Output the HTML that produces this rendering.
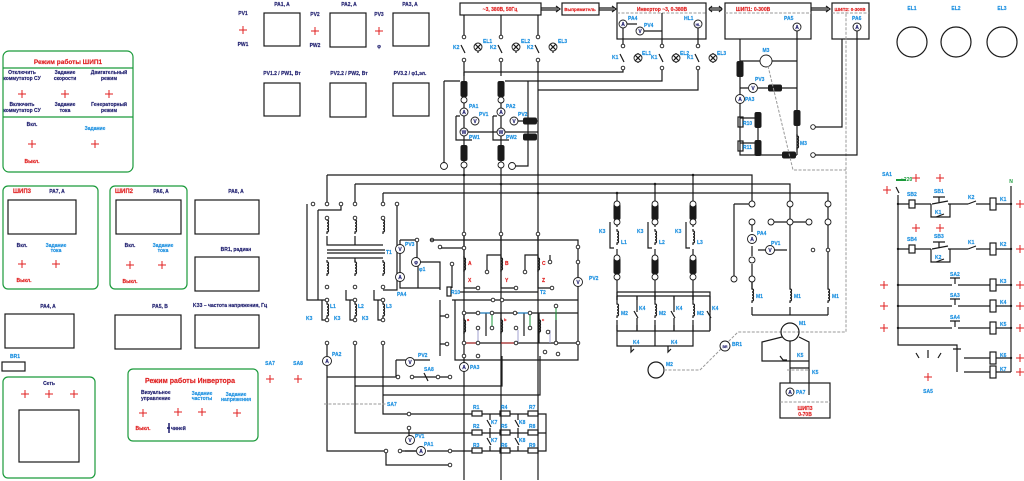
<!DOCTYPE html>
<html><head><meta charset="utf-8"><style>
html,body{margin:0;padding:0;background:#fff;}
svg{display:block;font-family:"Liberation Sans",sans-serif;font-weight:bold;}
.l{stroke:#1a1a1a;stroke-width:1.2;fill:none}
.g{stroke:#1a9a3a;stroke-width:1.2;fill:none}
.d{stroke:#999;stroke-width:1;fill:none;stroke-dasharray:3 1.5}
.t{font-size:5px;fill:#1e1e6e;stroke:#1e1e6e;stroke-width:0.15}
.c{font-size:5px;fill:#1a8fe0;stroke:#1a8fe0;stroke-width:0.15}
.r{font-size:5px;fill:#e02020;stroke:#e02020;stroke-width:0.15}
.p{stroke:#e02020;stroke-width:1}
.o{fill:#fff;stroke:#1a1a1a;stroke-width:0.9}
.k{fill:#1a1a1a}
</style></head><body>
<svg width="1024" height="481" viewBox="0 0 1024 481" xmlns="http://www.w3.org/2000/svg">
<defs>
<g id="pl"><path class="p" d="M-4 0H4M0 -4V4"/></g>
<g id="tm"><circle r="1.8" class="o"/></g>
<g id="ind"><rect x="-3.5" y="-8" width="7" height="16" rx="2" fill="#1a1a1a"/></g>
<g id="indh"><rect x="-7" y="-3.5" width="14" height="7" rx="2" fill="#1a1a1a"/></g>
<g id="coil"><path class="l" d="M0 0v2c2 0 2 3 0 3c2 0 2 3 0 3c2 0 2 3 0 3c2 0 2 3 0 3v2"/></g>
<g id="lamp"><circle r="4" class="o"/><path class="l" d="M-2.8 -2.8L2.8 2.8M-2.8 2.8L2.8 -2.8"/></g>
</defs>

<!-- ===== LEFT PANELS ===== -->
<rect x="3" y="51" width="130" height="121" rx="6" class="g"/>
<path class="g" d="M3 68H133M3 117H133"/>
<text x="68" y="64" class="r" text-anchor="middle" style="font-size:6.5px">Режим работы ШИП1</text>
<text x="22" y="74" class="t" text-anchor="middle">Отключить</text><text x="22" y="80" class="t" text-anchor="middle">коммутатор СУ</text>
<text x="65" y="74" class="t" text-anchor="middle">Задание</text><text x="65" y="80" class="t" text-anchor="middle">скорости</text>
<text x="109" y="74" class="t" text-anchor="middle">Двигательный</text><text x="109" y="80" class="t" text-anchor="middle">режим</text>
<use href="#pl" x="22" y="94"/><use href="#pl" x="65" y="94"/><use href="#pl" x="109" y="94"/>
<text x="22" y="106" class="t" text-anchor="middle">Включить</text><text x="22" y="112" class="t" text-anchor="middle">коммутатор СУ</text>
<text x="65" y="106" class="t" text-anchor="middle">Задание</text><text x="65" y="112" class="t" text-anchor="middle">тока</text>
<text x="109" y="106" class="t" text-anchor="middle">Генераторный</text><text x="109" y="112" class="t" text-anchor="middle">режим</text>
<text x="32" y="126" class="t" text-anchor="middle">Вкл.</text>
<text x="95" y="130" class="c" text-anchor="middle">Задание</text>
<use href="#pl" x="32" y="144"/><use href="#pl" x="95" y="144"/>
<text x="32" y="163" class="r" text-anchor="middle">Выкл.</text>

<text x="243" y="15" class="t" text-anchor="middle">PV1</text><use href="#pl" x="243" y="30"/><text x="243" y="46" class="t" text-anchor="middle">PW1</text>
<text x="282" y="6" class="t" text-anchor="middle">PA1, A</text><rect x="264" y="13" width="36" height="33" class="l"/>
<text x="315" y="16" class="t" text-anchor="middle">PV2</text><use href="#pl" x="315" y="31"/><text x="315" y="47" class="t" text-anchor="middle">PW2</text>
<text x="349" y="6" class="t" text-anchor="middle">PA2, A</text><rect x="330" y="13" width="36" height="34" class="l"/>
<text x="379" y="16" class="t" text-anchor="middle">PV3</text><use href="#pl" x="379" y="31"/><text x="379" y="48" class="t" text-anchor="middle">φ</text>
<text x="410" y="6" class="t" text-anchor="middle">PA3, A</text><rect x="393" y="13" width="36" height="33" class="l"/>
<text x="282" y="75" class="t" text-anchor="middle">PV1.2 / PW1, Вт</text><rect x="264" y="83" width="36" height="33" class="l"/>
<text x="349" y="75" class="t" text-anchor="middle">PV2.2 / PW2, Вт</text><rect x="330" y="83" width="36" height="34" class="l"/>
<text x="410" y="75" class="t" text-anchor="middle">PV3.2 / φ1,эл.</text><rect x="393" y="83" width="36" height="33" class="l"/>

<rect x="3" y="186" width="95" height="103" rx="5" class="g"/>
<text x="22" y="193" class="r" text-anchor="middle" style="font-size:6px">ШИП3</text><text x="57" y="193" class="t" text-anchor="middle">PA7, A</text>
<rect x="8" y="200" width="68" height="34" class="l"/>
<text x="22" y="247" class="t" text-anchor="middle">Вкл.</text><text x="56" y="247" class="c" text-anchor="middle">Задание</text><text x="56" y="252" class="c" text-anchor="middle">тока</text>
<use href="#pl" x="22" y="264"/><use href="#pl" x="56" y="264"/><text x="24" y="282" class="r" text-anchor="middle">Выкл.</text>

<rect x="110" y="186" width="77" height="103" rx="5" class="g"/>
<text x="124" y="193" class="r" text-anchor="middle" style="font-size:6px">ШИП2</text><text x="161" y="193" class="t" text-anchor="middle">PA6, A</text>
<rect x="116" y="200" width="65" height="34" class="l"/>
<text x="130" y="247" class="t" text-anchor="middle">Вкл.</text><text x="163" y="247" class="c" text-anchor="middle">Задание</text><text x="163" y="252" class="c" text-anchor="middle">тока</text>
<use href="#pl" x="130" y="265"/><use href="#pl" x="162" y="265"/><text x="130" y="283" class="r" text-anchor="middle">Выкл.</text>

<text x="236" y="193" class="t" text-anchor="middle">PA8, A</text><rect x="195" y="200" width="64" height="34" class="l"/>
<text x="236" y="251" class="t" text-anchor="middle">BR1, радиан</text><rect x="195" y="257" width="64" height="34" class="l"/>
<text x="48" y="308" class="t" text-anchor="middle">PA4, A</text><rect x="5" y="314" width="69" height="34" class="l"/>
<text x="160" y="308" class="t" text-anchor="middle">PA5, B</text><rect x="115" y="315" width="66" height="34" class="l"/>
<text x="230" y="307" class="t" text-anchor="middle">KЗ3 – частота напряжения, Гц</text><rect x="195" y="315" width="64" height="33" class="l"/>
<text x="15" y="358" class="c" text-anchor="middle">BR1</text><rect x="2" y="362" width="23" height="9" class="l"/>

<rect x="3" y="377" width="92" height="101" rx="5" class="g"/>
<text x="49" y="385" class="t" text-anchor="middle">Сеть</text>
<use href="#pl" x="25" y="394"/><use href="#pl" x="49" y="394"/><use href="#pl" x="74" y="394"/>
<rect x="19" y="410" width="60" height="52" class="l"/>

<rect x="128" y="369" width="130" height="72" rx="5" class="g"/>
<text x="190" y="383" class="r" text-anchor="middle" style="font-size:7px">Режим работы Инвертора</text>
<text x="141" y="394" class="t">Визуальное</text><text x="141" y="400" class="t">управление</text>
<text x="202" y="395" class="c" text-anchor="middle">Задание</text><text x="202" y="400" class="c" text-anchor="middle">частоты</text>
<text x="236" y="396" class="c" text-anchor="middle">Задание</text><text x="236" y="401" class="c" text-anchor="middle">напряжения</text>
<use href="#pl" x="143" y="413"/><use href="#pl" x="178" y="412"/><use href="#pl" x="202" y="412"/><use href="#pl" x="237" y="413"/>
<text x="143" y="430" class="r" text-anchor="middle">Выкл.</text>
<path d="M169 423v10M167 428h3" stroke="#1e1e6e" stroke-width="1.5"/><text x="171" y="430" class="t">чиней</text>
<text x="270" y="365" class="c" text-anchor="middle">SA7</text><use href="#pl" x="270" y="379"/>
<text x="298" y="365" class="c" text-anchor="middle">SA8</text><use href="#pl" x="298" y="379"/>

<!-- ===== TOP BLOCKS ===== -->
<rect x="460" y="3" width="81" height="12" class="l"/><text x="500" y="11" class="r" text-anchor="middle">~3, 380В, 50Гц</text>
<path class="l" d="M541 8H558M541 10H558M556 6l4 3l-4 3"/>
<rect x="562" y="3" width="37" height="12" class="l"/><text x="580" y="11" class="r" text-anchor="middle" style="font-size:4.5px">Выпрямитель</text>
<path class="l" d="M599 8H614M599 10H614M612 6l4 3l-4 3"/>
<rect x="617" y="3" width="89" height="36" class="l"/><path class="d" d="M617 13H706"/>
<text x="662" y="11" class="r" text-anchor="middle">Инвертор ~3, 0-380В</text>
<path class="l" d="M709 8H722M709 10H722M712 6l-3 3l3 3M719 6l3 3l-3 3"/>
<rect x="725" y="3" width="86" height="36" class="l"/><path class="d" d="M725 13H811"/>
<text x="753" y="11" class="r" text-anchor="middle">ШИП1: 0-300В</text>
<path class="l" d="M811 8H828M811 10H828M826 6l4 3l-4 3"/>
<rect x="832" y="3" width="37" height="36" class="l"/><path class="d" d="M832 13H869"/>
<text x="850" y="11" class="r" text-anchor="middle" style="font-size:4.5px">ШИП2: 0-300В</text>
<text x="912" y="10" class="c" text-anchor="middle">EL1</text><circle cx="912" cy="42" r="15" class="l"/>
<text x="956" y="10" class="c" text-anchor="middle">EL2</text><circle cx="956" cy="42" r="15" class="l"/>
<text x="1002" y="10" class="c" text-anchor="middle">EL3</text><circle cx="1002" cy="42" r="15" class="l"/>

<!-- inverter internals -->
<path class="l" d="M623 28V46M627 24H637M662 13V46M644 31H662M698 28V46"/>
<circle cx="623" cy="24" r="4" class="o"/><text x="623" y="26" class="t" text-anchor="middle">A</text><text x="628" y="20" class="c">PA4</text>
<circle cx="640" cy="31" r="4" class="o"/><text x="640" y="33" class="t" text-anchor="middle">V</text><text x="644" y="27" class="c">PV4</text>
<circle cx="698" cy="24" r="4" class="o"/><text x="698" y="26" class="t" text-anchor="middle" style="font-size:3.5px">HL</text><text x="684" y="20" class="c">HL1</text>
<circle cx="797" cy="27" r="4" class="o"/><text x="797" y="29" class="t" text-anchor="middle">A</text><text x="784" y="20" class="c">PA5</text>
<circle cx="857" cy="27" r="4" class="o"/><text x="857" y="29" class="t" text-anchor="middle">A</text><text x="852" y="20" class="c">PA6</text>

<!-- three phase feed -->
<path class="l" d="M464 15V480M501 15V480M538 15V480"/>
<path class="l" d="M464 72H623V65M501 81H662V65M538 90H698V65M444 81H460M444 81V163"/>
<g fill="#fff"><rect x="462" y="38" width="4" height="22"/><rect x="499" y="38" width="4" height="22"/><rect x="536" y="38" width="4" height="22"/>
<rect x="621" y="46" width="4" height="22"/><rect x="660" y="46" width="4" height="22"/><rect x="696" y="46" width="4" height="22"/></g>
<g class="l"><path d="M461 45l4 8M498 45l4 8M535 45l4 8M620 54l4 8M659 54l4 8M695 54l4 8"/></g>
<use href="#tm" x="464" y="37"/><use href="#tm" x="464" y="60"/><use href="#tm" x="501" y="37"/><use href="#tm" x="501" y="60"/><use href="#tm" x="538" y="37"/><use href="#tm" x="538" y="60"/>
<use href="#tm" x="623" y="46"/><use href="#tm" x="623" y="68"/><use href="#tm" x="662" y="46"/><use href="#tm" x="662" y="68"/><use href="#tm" x="698" y="46"/><use href="#tm" x="698" y="68"/>
<text x="453" y="49" class="c">K2</text><text x="490" y="49" class="c">K2</text><text x="527" y="49" class="c">K2</text>
<text x="612" y="59" class="c">K1</text><text x="651" y="59" class="c">K1</text><text x="687" y="59" class="c">K1</text>
<path class="l" d="M478 43V53M516 43V53M553 43V53M638 53V63M676 53V63M713 53V63"/>
<use href="#lamp" x="478" y="47"/><use href="#lamp" x="516" y="47"/><use href="#lamp" x="553" y="47"/>
<use href="#lamp" x="638" y="58"/><use href="#lamp" x="676" y="58"/><use href="#lamp" x="713" y="58"/>
<text x="483" y="43" class="c">EL1</text><text x="521" y="43" class="c">EL2</text><text x="558" y="43" class="c">EL3</text>
<text x="642" y="55" class="c">EL1</text><text x="680" y="55" class="c">EL2</text><text x="717" y="55" class="c">EL3</text>

<!-- measuring on phases -->
<g fill="#fff"><rect x="460" y="76" width="8" height="94"/><rect x="497" y="76" width="8" height="94"/></g>
<path class="l" d="M464 72V170M501 81V170M456 116V140H472M456 116H460M493 116V140H509M493 116H497M468 132H538M528 81V166H512"/>
<use href="#ind" x="464" y="89"/><use href="#ind" x="501" y="89"/><use href="#ind" x="464" y="153"/><use href="#ind" x="501" y="153"/>
<circle cx="464" cy="100" r="3" class="o"/><circle cx="501" cy="100" r="3" class="o"/><circle cx="464" cy="165" r="3" class="o"/><circle cx="501" cy="165" r="3" class="o"/>
<circle cx="444" cy="166" r="3.5" class="o"/><circle cx="512" cy="166" r="3.5" class="o"/>
<circle cx="464" cy="112" r="4" class="o"/><text x="464" y="114" class="t" text-anchor="middle">A</text><text x="469" y="108" class="c">PA1</text>
<circle cx="475" cy="121" r="4" class="o"/><text x="475" y="123" class="t" text-anchor="middle">V</text><text x="479" y="116" class="c">PV1</text>
<circle cx="464" cy="132" r="4" class="o"/><text x="464" y="134" class="t" text-anchor="middle">W</text><text x="469" y="139" class="c">PW1</text>
<circle cx="501" cy="112" r="4" class="o"/><text x="501" y="114" class="t" text-anchor="middle">A</text><text x="506" y="108" class="c">PA2</text>
<circle cx="514" cy="121" r="4" class="o"/><text x="514" y="123" class="t" text-anchor="middle">V</text><text x="518" y="116" class="c">PV2</text>
<circle cx="501" cy="132" r="4" class="o"/><text x="501" y="134" class="t" text-anchor="middle">W</text><text x="506" y="139" class="c">PW2</text>
<path class="l" d="M518 121H538"/><use href="#indh" x="530" y="121"/><use href="#indh" x="530" y="137"/>

<!-- buses -->
<path class="l" d="M327 175H752V204M355 184H790V204M383 193H828V204"/>
<circle cx="464" cy="175" r="1.3" class="k"/><circle cx="501" cy="184" r="1.3" class="k"/><circle cx="538" cy="193" r="1.3" class="k"/>
<circle cx="617" cy="193" r="1.3" class="k"/><circle cx="655" cy="184" r="1.3" class="k"/><circle cx="693" cy="175" r="1.3" class="k"/>

<!-- T1 -->
<path class="l" d="M327 175V204M355 184V204M383 193V204M307 204V300H327M318 210V290M318 210H341V204M397 204V290H383"/>
<g><use href="#tm" x="313" y="204"/><use href="#tm" x="327" y="204"/><use href="#tm" x="341" y="204"/><use href="#tm" x="355" y="204"/><use href="#tm" x="383" y="204"/><use href="#tm" x="397" y="204"/></g>
<use href="#coil" x="327" y="218"/><use href="#coil" x="355" y="218"/><use href="#coil" x="383" y="218"/>
<path class="l" d="M327 236V245H383M327 258H383M355 236V245M355 258V262M327 250H385M327 253H385"/>
<use href="#coil" x="327" y="260"/><use href="#coil" x="355" y="260"/><use href="#coil" x="383" y="260"/>
<use href="#tm" x="327" y="218"/><use href="#tm" x="355" y="218"/><use href="#tm" x="383" y="218"/>
<use href="#tm" x="327" y="287"/><use href="#tm" x="355" y="287"/><use href="#tm" x="383" y="287"/>
<text x="386" y="254" class="c">T1</text>
<!-- L1..L3 -->
<path class="l" d="M322 300V320H327M350 300V320H355M378 300V320H383M318 290V300M346 290V300H355M374 290V300H383"/>
<use href="#coil" x="327" y="302"/><use href="#coil" x="355" y="302"/><use href="#coil" x="383" y="302"/>
<use href="#tm" x="327" y="300"/><use href="#tm" x="355" y="300"/><use href="#tm" x="383" y="300"/>
<use href="#tm" x="327" y="320"/><use href="#tm" x="355" y="320"/><use href="#tm" x="383" y="320"/>
<text x="330" y="308" class="c">L1</text><text x="358" y="308" class="c">L2</text><text x="386" y="308" class="c">L3</text>
<text x="306" y="320" class="c">K3</text><text x="334" y="320" class="c">K3</text><text x="362" y="320" class="c">K3</text>

<!-- lower left -->
<path class="l" d="M327 343V356M327 366V451H386M355 343V433H472M383 343V414H472M327 377H396M355 386H502V356M383 395H540V356M396 377V360M396 360H430M386 451V465H450M400 451H416M427 451H450"/>
<use href="#tm" x="327" y="343"/><use href="#tm" x="355" y="343"/><use href="#tm" x="383" y="343"/>
<circle cx="327" cy="361" r="4.5" class="o"/><text x="327" y="363" class="t" text-anchor="middle">A</text><text x="332" y="356" class="c">PA2</text>
<circle cx="410" cy="362" r="4.5" class="o"/><text x="410" y="364" class="t" text-anchor="middle">V</text><text x="418" y="357" class="c">PV2</text>
<path class="l" d="M410 377H440M424 373l4 8M440 377H452"/><text x="424" y="371" class="c">SA8</text>
<use href="#tm" x="398" y="377"/><use href="#tm" x="412" y="377"/><use href="#tm" x="438" y="377"/><use href="#tm" x="450" y="377"/>
<path class="d" d="M324 404H386"/><text x="387" y="406" class="c">SA7</text>
<use href="#tm" x="409" y="414"/><use href="#tm" x="386" y="451"/><use href="#tm" x="450" y="465"/><use href="#tm" x="400" y="451"/><use href="#tm" x="450" y="451"/><use href="#tm" x="409" y="428"/>
<circle cx="410" cy="440" r="4.5" class="o"/><text x="410" y="442" class="t" text-anchor="middle">V</text><text x="415" y="438" class="c">PV1</text>
<circle cx="421" cy="451" r="4.5" class="o"/><text x="421" y="453" class="t" text-anchor="middle">A</text><text x="424" y="446" class="c">PA1</text>
<path class="l" d="M409 430V436M405 451H416"/>
<!-- resistors -->
<g fill="#fff" class="l">
<rect x="472" y="411" width="10" height="5"/><rect x="500" y="411" width="10" height="5"/><rect x="528" y="411" width="10" height="5"/>
<rect x="472" y="430" width="10" height="5"/><rect x="500" y="430" width="10" height="5"/><rect x="528" y="430" width="10" height="5"/>
<rect x="472" y="448" width="10" height="5"/><rect x="500" y="448" width="10" height="5"/><rect x="528" y="448" width="10" height="5"/></g>
<path class="l" d="M482 414H500M510 414H528M538 414H546V451H538M482 433H500M510 433H528M538 433H546M482 451H500M510 451H528M490 414V451M518 414V451M452 451H472"/>
<g fill="#fff"><rect x="488" y="420" width="4" height="8"/><rect x="516" y="420" width="4" height="8"/><rect x="488" y="438" width="4" height="8"/><rect x="516" y="438" width="4" height="8"/></g>
<path class="l" d="M487 420l4 7M515 420l4 7M487 438l4 7M515 438l4 7"/>
<text x="473" y="409" class="c">R1</text><text x="501" y="409" class="c">R4</text><text x="529" y="409" class="c">R7</text>
<text x="473" y="428" class="c">R2</text><text x="501" y="428" class="c">R5</text><text x="529" y="428" class="c">R8</text>
<text x="473" y="447" class="c">R3</text><text x="501" y="447" class="c">R6</text><text x="529" y="447" class="c">R9</text>
<text x="491" y="424" class="c">K7</text><text x="519" y="424" class="c">K8</text><text x="491" y="442" class="c">K7</text><text x="519" y="442" class="c">K8</text>

<!-- PV3 / phi / PA4 area -->
<path class="l" d="M400 240V288H440V264M400 240H417V258M418 266V288M414 262H440V290M440 300V356M440 316H447M440 344H447M452 300H578"/>
<circle cx="400" cy="249" r="4.5" class="o"/><text x="400" y="251" class="t" text-anchor="middle">V</text><text x="405" y="246" class="c">PV3</text>
<circle cx="416" cy="262" r="4.5" class="o"/><text x="416" y="264" class="t" text-anchor="middle">φ</text><text x="419" y="271" class="c">φ1</text>
<circle cx="400" cy="277" r="4.5" class="o"/><text x="400" y="279" class="t" text-anchor="middle">A</text><text x="397" y="296" class="c">PA4</text>
<use href="#tm" x="417" y="240"/><use href="#tm" x="432" y="240"/><use href="#tm" x="440" y="247"/><use href="#tm" x="447" y="316"/><use href="#tm" x="447" y="344"/>
<rect x="447" y="287" width="4" height="9" class="l" fill="#fff"/><text x="451" y="294" class="c">R10</text>
<!-- T2 -->
<path class="l" d="M464 234V288H478M501 234V288H516M538 234V288H552M430 240H578V360H455V300M464 248H441M452 264V288M501 255H487V270M538 255H525V270M550 255V262M578 266V270M578 294V300M460 292H538"/>
<use href="#coil" x="464" y="256"/><use href="#coil" x="501" y="256"/><use href="#coil" x="538" y="256"/>
<use href="#tm" x="464" y="234"/><use href="#tm" x="501" y="234"/><use href="#tm" x="538" y="234"/><use href="#tm" x="464" y="248"/><use href="#tm" x="452" y="264"/>
<use href="#tm" x="487" y="272"/><use href="#tm" x="525" y="272"/><use href="#tm" x="550" y="262"/><use href="#tm" x="478" y="288"/><use href="#tm" x="516" y="288"/><use href="#tm" x="552" y="288"/>
<use href="#tm" x="578" y="247"/><use href="#tm" x="578" y="262"/><use href="#tm" x="493" y="300"/><use href="#tm" x="502" y="300"/>
<text x="468" y="265" class="r">A</text><text x="468" y="282" class="r">X</text><text x="505" y="265" class="r">B</text><text x="505" y="282" class="r">Y</text><text x="542" y="265" class="r">C</text><text x="542" y="282" class="r">Z</text>
<text x="540" y="294" class="c">T2</text>
<circle cx="578" cy="282" r="4.5" class="o"/><text x="578" y="284" class="t" text-anchor="middle">V</text><text x="589" y="280" class="c">PV2</text>
<!-- T2 lower -->
<path class="l" d="M464 313H578M464 343H580M464 313V343M501 313V343M539 313V343M556 313V343M486 313V336M524 313V336"/>
<path stroke="#1a8fe0" d="M479 313H492M518 313H530"/><path stroke="#1a9a3a" d="M492 313V330M530 313V330M556 306V320"/>
<path stroke="#a0a0d0" d="M478 330V343M518 330V343M550 330V343"/><path stroke="#c02020" d="M464 343H476M501 343H514"/>
<use href="#coil" x="464" y="318"/><use href="#coil" x="501" y="318"/><use href="#coil" x="539" y="318"/>
<use href="#tm" x="464" y="313"/><use href="#tm" x="478" y="313"/><use href="#tm" x="492" y="313"/><use href="#tm" x="515" y="313"/><use href="#tm" x="530" y="313"/><use href="#tm" x="556" y="306"/>
<use href="#tm" x="478" y="328"/><use href="#tm" x="492" y="328"/><use href="#tm" x="516" y="328"/><use href="#tm" x="530" y="328"/><use href="#tm" x="548" y="332"/>
<use href="#tm" x="464" y="343"/><use href="#tm" x="478" y="343"/><use href="#tm" x="516" y="343"/><use href="#tm" x="556" y="343"/><use href="#tm" x="578" y="343"/>
<text x="467" y="321" class="r" style="font-size:4px">a</text><text x="504" y="321" class="r" style="font-size:4px">b</text><text x="542" y="321" class="r" style="font-size:4px">c</text>
<use href="#tm" x="464" y="356"/><use href="#tm" x="478" y="356"/><use href="#tm" x="545" y="352"/><use href="#tm" x="558" y="354"/>
<circle cx="464" cy="367" r="4.5" class="o"/><text x="464" y="369" class="t" text-anchor="middle">A</text><text x="470" y="369" class="c">PA3</text>

<!-- Middle right: L & M2 -->
<path class="l" d="M617 193V300M655 184V300M693 175V300M610 222V248H617M648 222V248H655M686 222V248H693"/>
<use href="#ind" x="617" y="212"/><use href="#ind" x="655" y="212"/><use href="#ind" x="693" y="212"/>
<use href="#ind" x="617" y="266"/><use href="#ind" x="655" y="266"/><use href="#ind" x="693" y="266"/>
<g fill="#fff"><rect x="614" y="227" width="6" height="22"/><rect x="652" y="227" width="6" height="22"/><rect x="690" y="227" width="6" height="22"/></g>
<use href="#coil" x="617" y="229"/><use href="#coil" x="655" y="229"/><use href="#coil" x="693" y="229"/>
<circle cx="617" cy="204" r="3" class="o"/><circle cx="655" cy="204" r="3" class="o"/><circle cx="693" cy="204" r="3" class="o"/>
<circle cx="617" cy="222" r="3" class="o"/><circle cx="655" cy="222" r="3" class="o"/><circle cx="693" cy="222" r="3" class="o"/>
<circle cx="617" cy="258" r="3" class="o"/><circle cx="655" cy="258" r="3" class="o"/><circle cx="693" cy="258" r="3" class="o"/>
<circle cx="617" cy="277" r="3" class="o"/><circle cx="655" cy="277" r="3" class="o"/><circle cx="693" cy="277" r="3" class="o"/>
<text x="599" y="233" class="c">K3</text><text x="637" y="233" class="c">K3</text><text x="675" y="233" class="c">K3</text>
<text x="621" y="244" class="c">L1</text><text x="659" y="244" class="c">L2</text><text x="697" y="244" class="c">L3</text>
<path class="l" d="M617 292H710V330M617 292V346H693V292M637 296V331M674 296V331M655 292V346M617 331H710"/>
<rect x="613" y="300" width="88" height="25" fill="#fff"/>
<use href="#coil" x="617" y="302"/><use href="#coil" x="655" y="302"/><use href="#coil" x="693" y="302"/>
<path class="l" d="M617 296V302M655 296V302M693 296V302M617 320V331M655 320V331M693 320V331M637 296V312M637 318V331M674 296V312M674 318V331M710 296V312M710 318V331M617 296H710"/>
<path class="l" d="M634 311l4 7M671 311l4 7M707 311l4 7"/>
<text x="621" y="315" class="c">M2</text><text x="659" y="315" class="c">M2</text><text x="697" y="315" class="c">M2</text>
<text x="639" y="310" class="c">K4</text><text x="676" y="310" class="c">K4</text><text x="712" y="310" class="c">K4</text>
<path class="l" d="M631 346V352l3-3M668 346V352l3-3"/>
<text x="633" y="344" class="c">K4</text><text x="671" y="344" class="c">K4</text>
<circle cx="656" cy="370" r="8" class="l"/><text x="666" y="366" class="c">M2</text>
<path class="d" d="M664 370H700L738 332H846V12"/>
<circle cx="725" cy="346" r="5" class="o"/><text x="725" y="348" class="t" text-anchor="middle" style="font-size:3.5px">BR</text><text x="732" y="346" class="c">BR1</text>

<!-- M1 section -->
<path class="l" d="M734 204H752M734 204V279M752 222V232M752 246V256M790 204V315M828 204V315M771 222H809M758 250H787M752 264V287M752 315H828M752 306V315"/>
<circle cx="752" cy="204" r="3" class="o"/><circle cx="790" cy="204" r="3" class="o"/><circle cx="828" cy="204" r="3" class="o"/>
<circle cx="752" cy="222" r="3" class="o"/><circle cx="771" cy="222" r="3" class="o"/><circle cx="790" cy="222" r="3" class="o"/><circle cx="809" cy="222" r="3" class="o"/><circle cx="828" cy="222" r="3" class="o"/>
<circle cx="752" cy="239" r="4.5" class="o"/><text x="752" y="241" class="t" text-anchor="middle">A</text><text x="757" y="235" class="c">PA4</text>
<circle cx="770" cy="250" r="4.5" class="o"/><text x="770" y="252" class="t" text-anchor="middle">V</text><text x="771" y="245" class="c">PV1</text>
<circle cx="752" cy="260" r="3" class="o"/><circle cx="734" cy="279" r="3" class="o"/><circle cx="752" cy="279" r="3" class="o"/>
<use href="#tm" x="813" y="250"/><use href="#tm" x="828" y="250"/>
<rect x="748" y="287" width="84" height="20" fill="#fff"/>
<use href="#coil" x="752" y="287"/><use href="#coil" x="790" y="287"/><use href="#coil" x="828" y="287"/>
<path class="l" d="M752 282V289"/>
<text x="756" y="298" class="c">M1</text><text x="794" y="298" class="c">M1</text><text x="832" y="298" class="c">M1</text>
<circle cx="790" cy="332" r="9" class="l"/><text x="799" y="325" class="c">M1</text>
<path class="l" d="M782 337L762 342V361H809V342L799 337M790 341V383M809 361V395M790 361H809M780 356l3 4h4M790 368H809"/>
<path class="d" d="M787 370H810"/><text x="812" y="374" class="c">K5</text><text x="797" y="357" class="c">K5</text>
<rect x="780" y="383" width="50" height="35" class="l"/><path class="d" d="M780 402H830"/>
<circle cx="790" cy="392" r="4" class="o"/><text x="790" y="394" class="t" text-anchor="middle">A</text><text x="796" y="394" class="c">PA7</text>
<text x="805" y="410" class="r" text-anchor="middle">ШИП3</text><text x="805" y="416" class="r" text-anchor="middle">0-70В</text>

<!-- ШИП1 circuit -->
<path class="l" d="M740 39V155H797M797 31V155M740 61H760M772 61H797M740 88H748M758 88H797M740 118H758M740 143H758M758 112V155M842 39V127H813M857 31V155H813"/>
<circle cx="766" cy="61" r="6" class="o"/><text x="766" y="52" class="c" text-anchor="middle">M3</text>
<use href="#ind" x="740" y="69"/>
<circle cx="753" cy="88" r="4.5" class="o"/><text x="753" y="90" class="t" text-anchor="middle">V</text><text x="755" y="81" class="c">PV3</text>
<use href="#indh" x="775" y="88"/>
<circle cx="740" cy="99" r="4.5" class="o"/><text x="740" y="101" class="t" text-anchor="middle">A</text><text x="745" y="101" class="c">PA3</text>
<rect x="738" y="117" width="5" height="10" class="l" fill="#fff"/><text x="743" y="125" class="c">R10</text>
<rect x="738" y="141" width="5" height="10" class="l" fill="#fff"/><text x="743" y="149" class="c">R11</text>
<use href="#ind" x="758" y="120"/><use href="#ind" x="758" y="148"/>
<use href="#ind" x="797" y="118"/><use href="#coil" x="797" y="134"/><text x="800" y="145" class="c">M3</text>
<use href="#indh" x="789" y="155"/>
<circle cx="813" cy="127" r="2.3" class="o"/><circle cx="813" cy="155" r="2.3" class="o"/>
<path class="d" d="M768 66L793 170H846"/>

<!-- ===== RIGHT LADDER ===== -->
<text x="887" y="176" class="c" text-anchor="middle">SA1</text>
<text x="901" y="181" style="font-size:5px;fill:#1a9a3a">~220</text><path stroke="#1a9a3a" stroke-width="2" d="M896 180H906"/>
<use href="#pl" x="916" y="178"/><use href="#pl" x="940" y="178"/><use href="#pl" x="887" y="190"/>
<text x="1011" y="183" style="font-size:5px;fill:#1a9a3a" text-anchor="middle">N</text>
<path class="l" d="M896 187l3 6M898 195V345H957V372M1011 186V372"/>
<path class="l" d="M898 204H909M915 204H931M948 204H968M976 204H990M996 204H1011M931 204V217H950V204M898 249H909M915 249H931M948 249H968M976 249H990M996 249H1011M931 249V262H950V249"/>
<rect x="909" y="200" width="6" height="8" class="l" fill="#fff"/><rect x="909" y="245" width="6" height="8" class="l" fill="#fff"/>
<path class="l" d="M933 197H945M939 197V203M932 204l16 -3M933 242H945M939 242V248M932 249l16 -3M968 204l8 -3M968 249l8 -3M936 217l8 -3M936 262l8 -3"/>
<rect x="990" y="198" width="6" height="12" class="l" fill="#fff"/><rect x="990" y="243" width="6" height="12" class="l" fill="#fff"/>
<text x="907" y="196" class="c">SB2</text><text x="934" y="193" class="c">SB1</text><text x="968" y="199" class="c">K2</text><text x="1000" y="201" class="c">K1</text><text x="935" y="214" class="c">K1</text>
<text x="907" y="241" class="c">SB4</text><text x="934" y="238" class="c">SB3</text><text x="968" y="244" class="c">K1</text><text x="1000" y="246" class="c">K2</text><text x="935" y="259" class="c">K2</text>
<use href="#pl" x="916" y="228"/><use href="#pl" x="940" y="228"/><use href="#pl" x="1020" y="204"/><use href="#pl" x="1020" y="249"/>
<g>
<path class="l" d="M898 285H952M958 285H990M996 285H1011M898 306H952M958 306H990M996 306H1011M898 328H952M958 328H990M996 328H1011M950 278H960M955 278V284M950 299H960M955 299V305M950 321H960M955 321V327"/>
<rect x="990" y="279" width="6" height="12" class="l" fill="#fff"/><rect x="990" y="300" width="6" height="12" class="l" fill="#fff"/><rect x="990" y="322" width="6" height="12" class="l" fill="#fff"/>
<text x="950" y="276" class="c">SA2</text><text x="950" y="297" class="c">SA3</text><text x="950" y="319" class="c">SA4</text>
<text x="1000" y="283" class="c">K3</text><text x="1000" y="304" class="c">K4</text><text x="1000" y="326" class="c">K5</text>
<use href="#pl" x="884" y="285"/><use href="#pl" x="884" y="306"/><use href="#pl" x="884" y="328"/>
<use href="#pl" x="1020" y="285"/><use href="#pl" x="1020" y="306"/><use href="#pl" x="1020" y="328"/>
</g>
<path class="l" d="M953 349H961M964 358H990M996 358H1011M964 372H990M996 372H1011M916 353l3 5M928 350V358M941 353l-3 5"/>
<rect x="990" y="352" width="6" height="12" class="l" fill="#fff"/><rect x="990" y="366" width="6" height="12" class="l" fill="#fff"/>
<text x="1000" y="357" class="c">K6</text><text x="1000" y="371" class="c">K7</text>
<use href="#pl" x="1020" y="358"/><use href="#pl" x="1020" y="372"/><use href="#pl" x="928" y="377"/>
<text x="928" y="393" class="c" text-anchor="middle">SA5</text>
<g class="k"><circle cx="898" cy="204" r="1.2"/><circle cx="898" cy="249" r="1.2"/><circle cx="898" cy="285" r="1.2"/><circle cx="898" cy="306" r="1.2"/><circle cx="898" cy="328" r="1.2"/><circle cx="1011" cy="204" r="1.2"/><circle cx="1011" cy="249" r="1.2"/><circle cx="1011" cy="285" r="1.2"/><circle cx="1011" cy="306" r="1.2"/><circle cx="1011" cy="328" r="1.2"/><circle cx="1011" cy="358" r="1.2"/></g>
</svg>
</body></html>
